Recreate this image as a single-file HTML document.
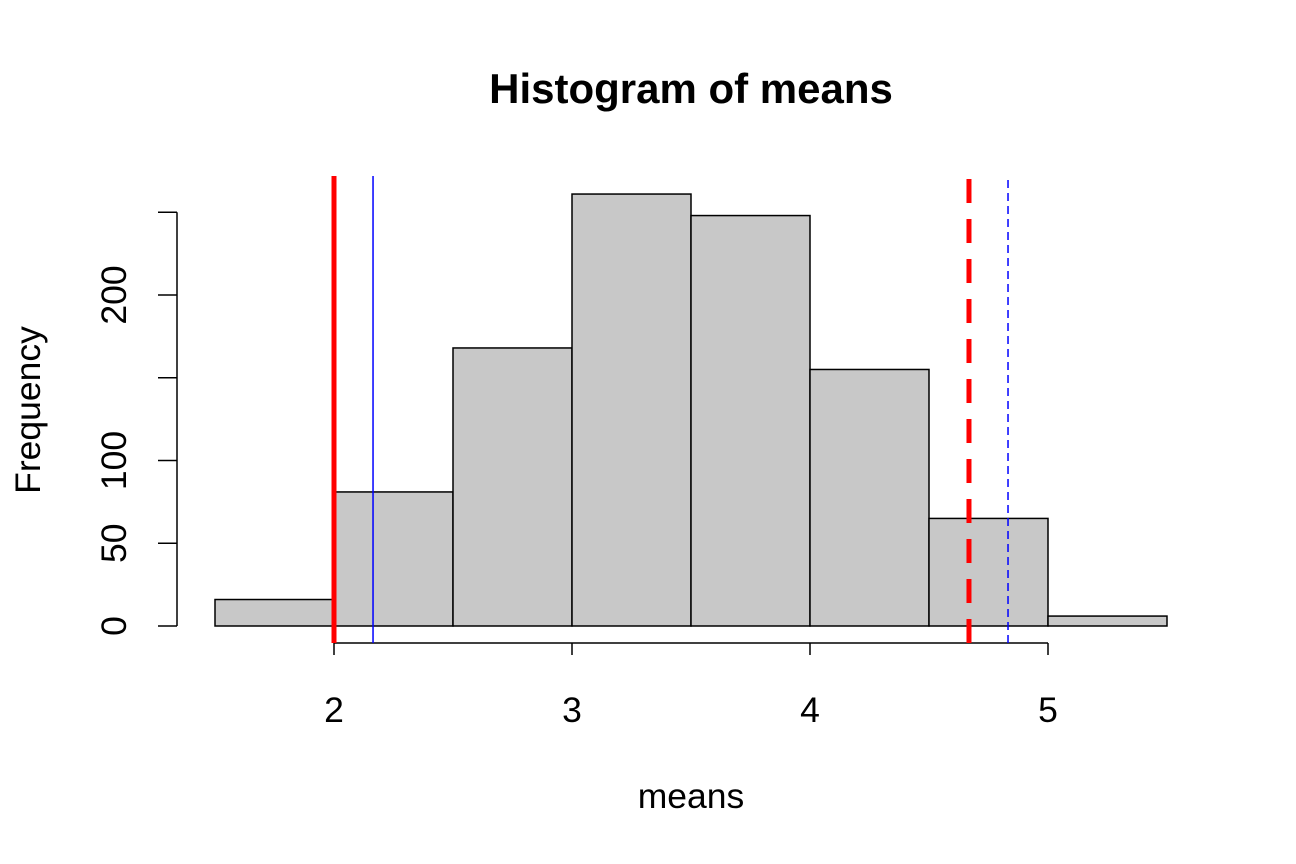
<!DOCTYPE html>
<html><head><meta charset="utf-8"><style>
html,body{margin:0;padding:0;background:#fff;}
svg{display:block;font-family:"Liberation Sans",Arial,sans-serif;}
</style></head><body>
<svg id="chart" width="1296" height="864" viewBox="0 0 1296 864">
<text x="691" y="103" text-anchor="middle" font-size="42" font-weight="bold">Histogram of means</text>
<text x="691" y="808" text-anchor="middle" font-size="35.5">means</text>
<text transform="translate(40,410) rotate(-90)" text-anchor="middle" font-size="35.5">Frequency</text>
<g id="bars"></g>
<g id="axes"></g>
<g id="lines"></g>
</svg>
<script>
const binStarts = [1.5, 2, 2.5, 3, 3.5, 4, 4.5, 5];
const binWidth = 0.5;
const counts = [16, 81, 168, 261, 248, 155, 65, 6];
const xTicks = [2, 3, 4, 5];
const yTicks = [0, 50, 100, 150, 200, 250];
const yTickLabels = ["0", "50", "100", "", "200", ""];
const vlineValues = [2.0, 2.164, 4.668, 4.832];
const vlineNames = ["red-solid-line", "blue-solid-line", "red-dashed-line", "blue-dashed-line"];

const NS = "http://www.w3.org/2000/svg";
function xs(v){ return 334 + (v - 2) * 238; }
function ys(v){ return 626 - v * 1.655; }
function mk(tag, attrs, parent){
  const e = document.createElementNS(NS, tag);
  for (const k in attrs) e.setAttribute(k, attrs[k]);
  parent.appendChild(e);
  return e;
}
const bars = document.getElementById('bars');
counts.forEach((c, i) => {
  const x0 = xs(binStarts[i]), x1 = xs(binStarts[i] + binWidth);
  const r = mk('rect', {x: x0, y: ys(c), width: x1 - x0, height: ys(0) - ys(c), fill: '#c8c8c8', stroke: '#000', 'stroke-width': 1.5}, bars);
  
  
});
const axes = document.getElementById('axes');
const xa = mk('line', {x1: xs(xTicks[0]), x2: xs(xTicks[xTicks.length-1]), y1: 643, y2: 643, stroke: '#000', 'stroke-width': 1.5}, axes);


xTicks.forEach(t => {
  mk('line', {x1: xs(t), x2: xs(t), y1: 643, y2: 655, stroke: '#000', 'stroke-width': 1.5}, axes);
  const tx = mk('text', {x: xs(t), y: 722, 'text-anchor': 'middle', 'font-size': 35.5}, axes);
  tx.textContent = t;
  
  
});
const ya = mk('line', {x1: 177, x2: 177, y1: ys(yTicks[0]), y2: ys(yTicks[yTicks.length-1]), stroke: '#000', 'stroke-width': 1.5}, axes);


yTicks.forEach((t, i) => {
  mk('line', {x1: 158, x2: 177, y1: ys(t), y2: ys(t), stroke: '#000', 'stroke-width': 1.5}, axes);
  if (yTickLabels[i]) {
    const tx = mk('text', {transform: 'translate(126,' + ys(t) + ') rotate(-90)', 'text-anchor': 'middle', 'font-size': 35.5}, axes);
    tx.textContent = yTickLabels[i];
    
    
  }
});
const lines = document.getElementById('lines');
const styles = [
  {stroke: '#ff0000', 'stroke-width': 5},
  {stroke: '#0000ff', 'stroke-width': 1.5},
  {stroke: '#ff0000', 'stroke-width': 5, 'stroke-dasharray': '24 16'},
  {stroke: '#0000ff', 'stroke-width': 1.5, 'stroke-dasharray': '8 5'}
];
vlineValues.forEach((v, i) => {
  const a = Object.assign({x1: xs(v), x2: xs(v), y1: 643, y2: 176}, styles[i]);
  const l = mk('line', a, lines);
  
  
});
</script>
</body></html>
